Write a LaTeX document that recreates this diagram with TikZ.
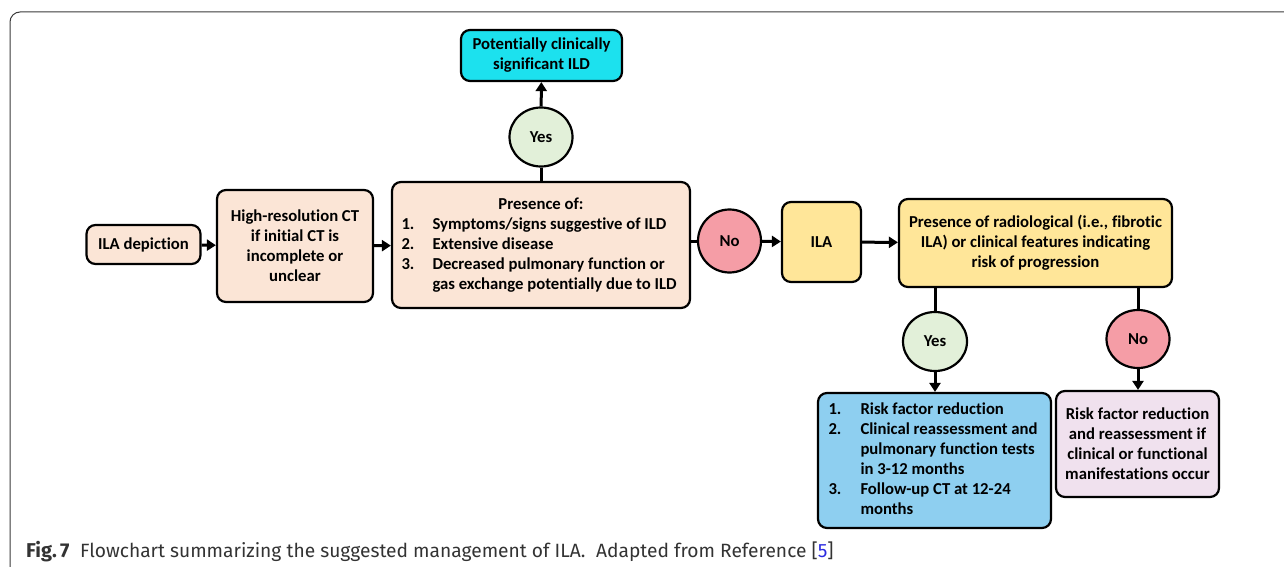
\documentclass[tikz,border=0pt]{standalone}
\usepackage{fontspec}
\usepackage{array}
\setmainfont{Carlito}[Ligatures={NoCommon}]
\newfontfamily\capfont{Fira Sans}[Ligatures={NoCommon}]
\usetikzlibrary{arrows.meta,shapes.geometric}
\definecolor{peach}{HTML}{FBE5D6}
\definecolor{cyanbox}{HTML}{1CE1EE}
\definecolor{yesgreen}{HTML}{E2F0D9}
\definecolor{nopink}{HTML}{F59DA6}
\definecolor{ilayellow}{HTML}{FFE699}
\definecolor{bluebox}{HTML}{8ECFF0}
\definecolor{lavender}{HTML}{F0E1EE}
\definecolor{framegray}{HTML}{3A3A3A}
\definecolor{capgray}{HTML}{333333}
\definecolor{reflink}{HTML}{2B2BE0}
\tikzset{
  box/.style={draw=black, line width=2.2pt, rounded corners=9pt, inner sep=0pt, align=center,
    font=\fontsize{16.7}{20}\selectfont\bfseries},
  bubble/.style={draw=black, line width=2.2pt, ellipse, inner sep=0pt,
    font=\fontsize{16.7}{20}\selectfont\bfseries},
  link/.style={line width=3pt},
  conn/.style={line width=3pt, -{Triangle[length=9pt,width=11pt]}},
}
\begin{document}
\begin{tikzpicture}[x=1pt,y=-1pt]
\useasboundingbox (0,0) rectangle (1284,567);
% outer frame
\draw[framegray, line width=1pt, rounded corners=10pt] (10,567) -- (10,12) -- (1284,12);

% nodes
\node[box, fill=peach, minimum width=114pt, minimum height=39pt] (dep) at (143.5,244.5) {ILA depiction};
\node[box, fill=peach, minimum width=156pt, minimum height=112pt] (hrct) at (295,246)
  {High-resolution CT\\ if initial CT is\\ incomplete or\\ unclear};
\node[box, fill=peach, minimum width=298pt, minimum height=126pt] (pres) at (541,245)
  {\begin{tabular}{@{}p{31pt}@{}p{248pt}@{}}
   \multicolumn{2}{c}{Presence of:}\\
   1. & Symptoms/signs suggestive of ILD\\
   2. & Extensive disease\\
   3. & Decreased pulmonary function or\newline gas exchange potentially due to ILD
   \end{tabular}};
\node[bubble, fill=yesgreen, minimum width=63pt, minimum height=59pt] (yes1) at (541,137) {Yes};
\node[box, fill=cyanbox, minimum width=161pt, minimum height=51pt] (pcs) at (541.5,55.5)
  {Potentially clinically\\ significant ILD};
\node[bubble, fill=nopink, minimum width=63pt, minimum height=63pt] (no1) at (729.5,241) {No};
\node[box, fill=ilayellow, minimum width=79pt, minimum height=80pt] (ila) at (821.5,242) {ILA};
\node[box, fill=ilayellow, minimum width=273pt, minimum height=88pt] (rad) at (1035.5,243)
  {Presence of radiological (i.e., fibrotic\\ ILA) or clinical features indicating\\ risk of progression};
\node[bubble, fill=yesgreen, minimum width=64pt, minimum height=59pt] (yes2) at (935,341.5) {Yes};
\node[bubble, fill=nopink, minimum width=63pt, minimum height=58pt] (no2) at (1138,339) {No};
\node[box, fill=bluebox, minimum width=233pt, minimum height=135pt] (blue) at (934.5,460.5)
  {\begin{tabular}{@{}p{32pt}@{}p{180pt}@{}}
   1. & Risk factor reduction\\
   2. & Clinical reassessment and\newline pulmonary function tests\newline in 3-12 months\\
   3. & Follow-up CT at 12-24\newline months
   \end{tabular}};
\node[box, fill=lavender, minimum width=163pt, minimum height=106pt] (pink) at (1137.5,444)
  {Risk factor reduction\\ and reassessment if\\ clinical or functional\\ manifestations occur};

% connectors
\draw[conn] (dep) -- (hrct);
\draw[conn] (hrct) -- (pres);
\draw[link] (pres) -- (yes1);
\draw[conn] (yes1) -- (pcs);
\draw[link] (pres.east |- no1) -- (no1);
\draw[conn] (no1) -- (ila);
\draw[conn] (ila) -- (rad);
\draw[link] (rad.south -| yes2) -- (yes2);
\draw[conn] (yes2) -- (blue.north -| yes2);
\draw[link] (rad.south -| no2) -- (no2);
\draw[conn] (no2) -- (pink.north -| no2);

% caption
\node[anchor=base west, inner sep=0pt, text=capgray, font=\capfont\fontsize{19.2}{22}\selectfont] (cap) at (26,557)
  {{\fontsize{20}{22}\selectfont\textbf{Fig.\,7}}\hspace{0.55em}Flowchart summarizing the suggested management of ILA.\hspace{0.55em}Adapted from Reference [{\color{reflink}5}]};
\end{tikzpicture}
\end{document}
